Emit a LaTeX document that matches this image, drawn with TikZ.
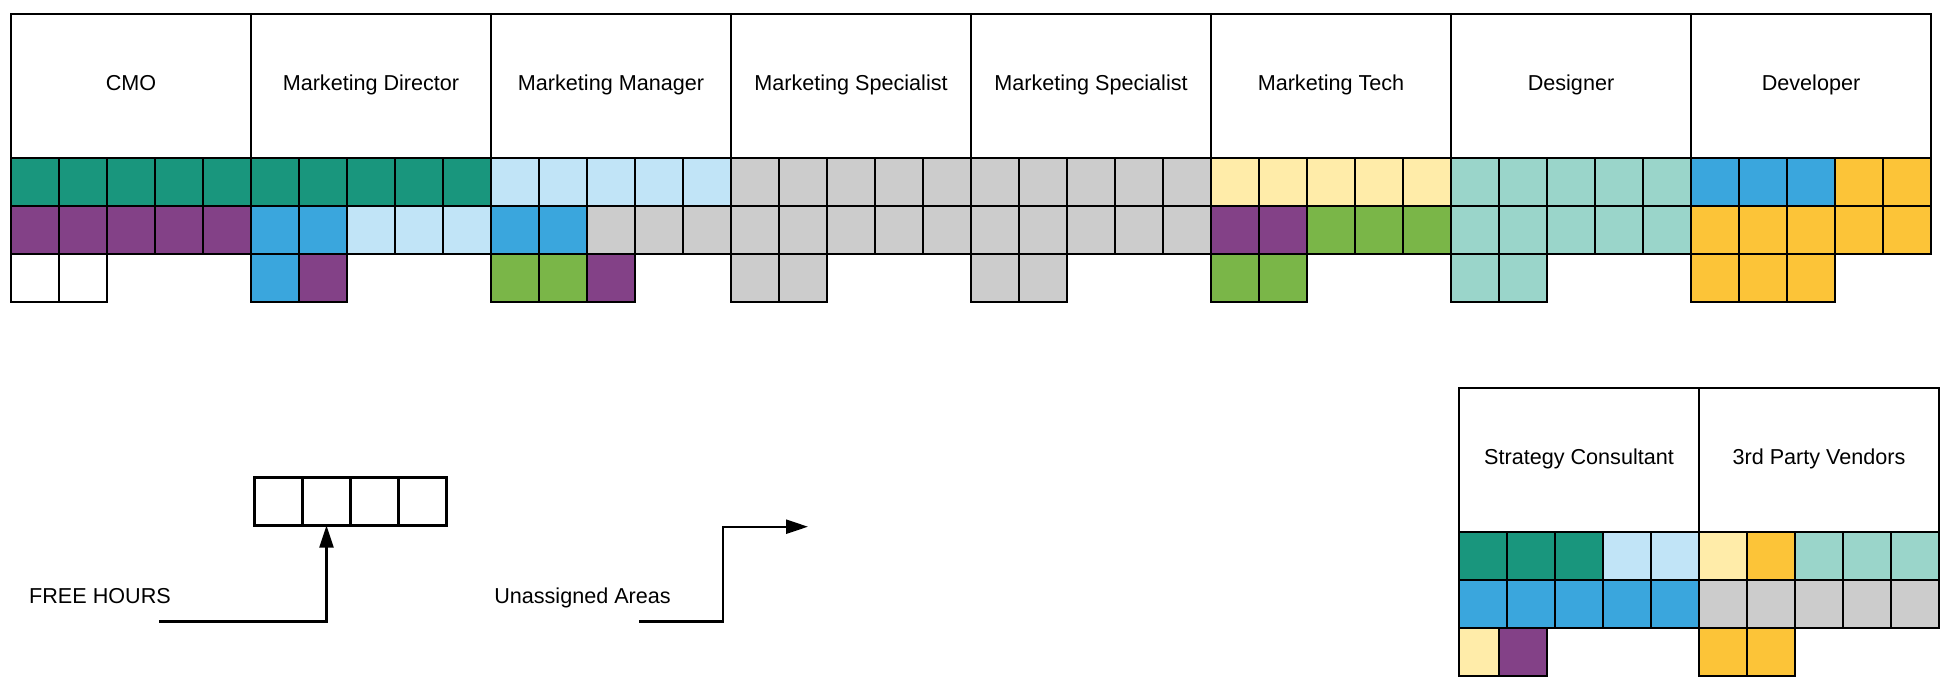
\documentclass[tikz,border=0pt]{standalone}
\usepackage{fontspec}
\setmainfont{Liberation Sans}
\usetikzlibrary{arrows.meta}

% palette
\definecolor{cteal}{HTML}{19967D}
\definecolor{cpurple}{HTML}{834187}
\definecolor{cblue}{HTML}{3AA6DD}
\definecolor{clblue}{HTML}{C1E4F7}
\definecolor{cgray}{HTML}{CCCCCC}
\definecolor{cyellow}{HTML}{FFECA9}
\definecolor{cgreen}{HTML}{7AB648}
\definecolor{cmint}{HTML}{9AD5CA}
\definecolor{cgold}{HTML}{FCC438}
\definecolor{cwhite}{HTML}{FFFFFF}

\tikzset{
  cellbox/.style={draw=black, line width=2.2pt, minimum width=48pt, minimum height=48pt,
    inner sep=0pt, outer sep=0pt, anchor=north west},
  headbox/.style={draw=black, line width=2.2pt, minimum width=240pt, minimum height=144pt,
    inner sep=0pt, outer sep=0pt, anchor=north west, text height=15pt, text depth=5.5pt},
  plain/.style={inner sep=0pt, anchor=base},
  conn/.style={draw=black, line width=2.2pt, -{Triangle[length=22pt,width=14pt]}},
}

% one role: header plus rows of hour cells
% #1 id, #2 x, #3 y, #4 title, #5 #6 #7 colour lists of rows 1-3
\newcommand{\roleblock}[7]{%
  \node[headbox] (#1) at (#2,#3) {#4};
  \foreach \c [count=\i from 0] in {#5}
    \node[cellbox, fill=\c] (#1-a\i) at ({#2+48*\i},{#3+144}) {};
  \foreach \c [count=\i from 0] in {#6}
    \node[cellbox, fill=\c] (#1-b\i) at ({#2+48*\i},{#3+192}) {};
  \if\relax\detokenize{#7}\relax\else
  \foreach \c [count=\i from 0] in {#7}
    \node[cellbox, fill=\c] (#1-c\i) at ({#2+48*\i},{#3+240}) {};
  \fi
}

\begin{document}
\begin{tikzpicture}[x=1pt, y=-1pt, font=\fontsize{21.6}{26}\selectfont]
\useasboundingbox (0,0) rectangle (1943,678);

% top row of roles
\roleblock{cmo}{11}{14}{CMO}
  {cteal,cteal,cteal,cteal,cteal}
  {cpurple,cpurple,cpurple,cpurple,cpurple}
  {cwhite,cwhite}
\roleblock{dir}{251}{14}{Marketing Director}
  {cteal,cteal,cteal,cteal,cteal}
  {cblue,cblue,clblue,clblue,clblue}
  {cblue,cpurple}
\roleblock{mgr}{491}{14}{Marketing Manager}
  {clblue,clblue,clblue,clblue,clblue}
  {cblue,cblue,cgray,cgray,cgray}
  {cgreen,cgreen,cpurple}
\roleblock{spa}{731}{14}{Marketing Specialist}
  {cgray,cgray,cgray,cgray,cgray}
  {cgray,cgray,cgray,cgray,cgray}
  {cgray,cgray}
\roleblock{spb}{971}{14}{Marketing Specialist}
  {cgray,cgray,cgray,cgray,cgray}
  {cgray,cgray,cgray,cgray,cgray}
  {cgray,cgray}
\roleblock{tech}{1211}{14}{Marketing Tech}
  {cyellow,cyellow,cyellow,cyellow,cyellow}
  {cpurple,cpurple,cgreen,cgreen,cgreen}
  {cgreen,cgreen}
\roleblock{des}{1451}{14}{Designer}
  {cmint,cmint,cmint,cmint,cmint}
  {cmint,cmint,cmint,cmint,cmint}
  {cmint,cmint}
\roleblock{dev}{1691}{14}{Developer}
  {cblue,cblue,cblue,cgold,cgold}
  {cgold,cgold,cgold,cgold,cgold}
  {cgold,cgold,cgold}

% external roles
\roleblock{strat}{1459}{388}{Strategy Consultant}
  {cteal,cteal,cteal,clblue,clblue}
  {cblue,cblue,cblue,cblue,cblue}
  {}
\node[cellbox, fill=cyellow, minimum width=40pt] (strat-c0) at (1459,628) {};
\node[cellbox, fill=cpurple] (strat-c1) at (1499,628) {};
\roleblock{vend}{1699}{388}{3rd Party Vendors}
  {cyellow,cgold,cmint,cmint,cmint}
  {cgray,cgray,cgray,cgray,cgray}
  {cgold,cgold}

% legend: free hours
\foreach \i in {0,...,3}
  \node[cellbox, fill=white] (fh\i) at ({254.5+48*\i},477.5) {};
\node[plain] (fhlabel) at (100,603.3) {FREE HOURS};
\coordinate (fhtail) at (159,621.5);
\draw[conn] (fhtail) -| (fh1.south);

% legend: unassigned areas
\node[plain] (ualabel) at (582.5,603.3) {Unassigned Areas};
\coordinate (uatail) at (639,621.5);
\coordinate (uahead) at (808,526.7);
\draw[conn] (uatail) -- ++(84,0) |- (uahead);
\end{tikzpicture}
\end{document}
